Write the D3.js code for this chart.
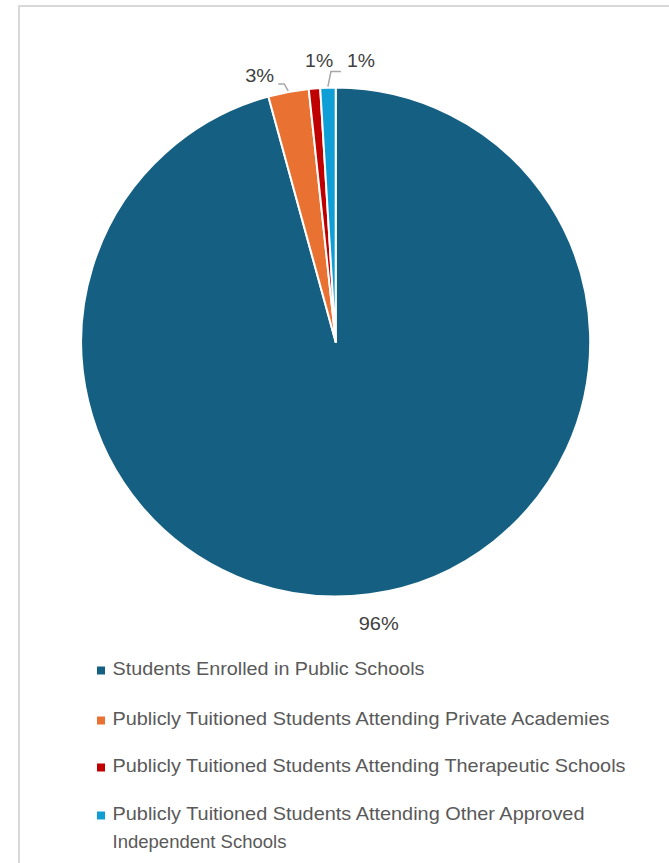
<!DOCTYPE html>
<html>
<head>
<meta charset="utf-8">
<script src="https://cdn.jsdelivr.net/npm/d3@7"></script>
<style>
  html, body { margin: 0; padding: 0; background: #fff; }
  svg { display: block; }
</style>
</head>
<body>
<svg id="chart" width="669" height="863"></svg>
<script>
// ---- data ----
const categories = [
  "Students Enrolled in Public Schools",
  "Publicly Tuitioned Students Attending Private Academies",
  "Publicly Tuitioned Students Attending Therapeutic Schools",
  "Publicly Tuitioned Students Attending Other Approved Independent Schools"
];
const values = [95.74, 2.57, 0.72, 0.97];
const percentLabels = ["96%", "3%", "1%", "1%"];
const colors = ["#156082", "#E97132", "#C00000", "#0F9ED5"];

// ---- layout ----
const svg = d3.select("#chart");
const cx = 335.7, cy = 342, r = 254.5;

// chart border
svg.append("path")
  .attr("d", "M19,880 L19,6 L700,6")
  .attr("fill", "none").attr("stroke", "#d9d9d9").attr("stroke-width", 2);

const pie = d3.pie().sort(null).value(d => d)(values);
const arc = d3.arc().innerRadius(0).outerRadius(r);

const g = svg.append("g").attr("transform", `translate(${cx},${cy})`);
g.selectAll("path.slice").data(pie).join("path")
  .attr("class", "slice")
  .attr("d", arc)
  .attr("fill", (d, i) => colors[i])
  .attr("stroke", "#fff").attr("stroke-width", 2).attr("stroke-linejoin", "round");

// data labels: anchored at angle-based points on a label radius, with small nudges
function polar(angle, rad) { return [Math.sin(angle) * rad, -Math.cos(angle) * rad]; }
const labelNudge = [
  { rad: r + 30, dx: 5, dy: 0 },
  { rad: r + 20, dx: -25, dy: 3 },
  { rad: r + 28, dx: 7, dy: 0 },
  { rad: r + 30, dx: 34, dy: 3 }
];
const labelWidths = [40, 29, 28, 28];
pie.forEach((d, i) => {
  const mid = (d.startAngle + d.endAngle) / 2;
  const [x, y] = polar(mid, labelNudge[i].rad);
  g.append("text")
    .attr("x", x + labelNudge[i].dx)
    .attr("y", y + labelNudge[i].dy)
    .attr("text-anchor", "middle")
    .attr("dominant-baseline", "central")
    .attr("font-family", "Liberation Sans, Arial, sans-serif")
    .attr("font-size", 19)
    .attr("fill", "#404040")
    .attr("textLength", labelWidths[i])
    .attr("lengthAdjust", "spacingAndGlyphs")
    .text(percentLabels[i]);
});

// leader lines for the orange and light-blue labels
function leader(i, pts) {
  const mid = (pie[i].startAngle + pie[i].endAngle) / 2;
  const [ex, ey] = polar(mid, r + 1);
  const line = d3.line();
  g.append("path")
    .attr("d", line([[ex, ey], ...pts]))
    .attr("fill", "none").attr("stroke", "#a6a6a6").attr("stroke-width", 1.5);
}
{
  const mid1 = (pie[1].startAngle + pie[1].endAngle) / 2;
  const [ex1, ey1] = polar(mid1, r + 1);
  leader(1, [[ex1 - 4, ey1 - 7], [ex1 - 10, ey1 - 7]]);
  const mid3 = (pie[3].startAngle + pie[3].endAngle) / 2;
  const [ex3, ey3] = polar(mid3, r + 1);
  leader(3, [[ex3 + 3, ey3 - 15], [ex3 + 13, ey3 - 15]]);
}

// legend
const legend = svg.append("g");
const legendLines = [
  [categories[0]],
  [categories[1]],
  [categories[2]],
  ["Publicly Tuitioned Students Attending Other Approved", "Independent Schools"]
];
const legendWidths = [[312], [497], [513], [472, 174]];
const legendBaselines = [675, 725, 772, 820];
legendLines.forEach((lines, i) => {
  const by = legendBaselines[i];
  legend.append("rect")
    .attr("x", 97).attr("y", by - 8.5).attr("width", 8).attr("height", 8)
    .attr("fill", colors[i]);
  lines.forEach((t, j) => {
    legend.append("text")
      .attr("x", 112.5).attr("y", by + j * 28)
      .attr("font-family", "Liberation Sans, Arial, sans-serif")
      .attr("font-size", 19)
      .attr("fill", "#595959")
      .attr("textLength", legendWidths[i][j])
      .attr("lengthAdjust", "spacingAndGlyphs")
      .text(t);
  });
});
</script>
</body>
</html>
